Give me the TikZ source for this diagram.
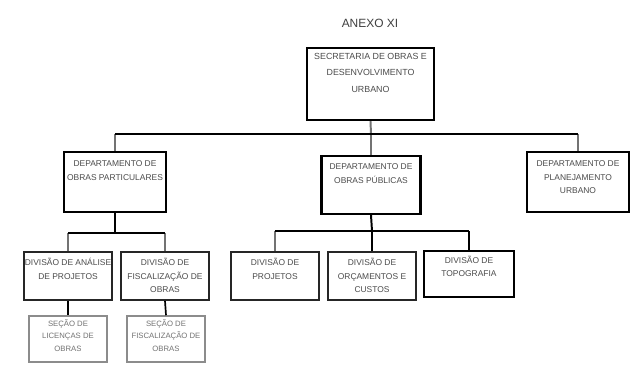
\documentclass[tikz,border=0pt]{standalone}
\usepackage{fontspec}
\setmainfont{Liberation Sans}
\usetikzlibrary{positioning}

\begin{document}
\begin{tikzpicture}[x=0.025cm,y=-0.025cm,
  unit/.style={draw=black,line width=1.5pt,fill=white,inner sep=0pt},
  divbox/.style={draw=black!85,line width=1.2pt,fill=white,inner sep=0pt},
  secbox/.style={draw=black!45,line width=1.1pt,fill=white,inner sep=0pt},
  txt/.style={align=center,inner sep=0pt,text=black!70,font=\fontsize{6}{9.6}\selectfont},
  bar/.style={draw=black,line width=1.4pt},
  stem/.style={draw=black!55,line width=1.4pt}]

\useasboundingbox[fill=white] (0,0) rectangle (638,365);

% title:
\node[font=\fontsize{8.5}{9}\selectfont,text=black!75] (title) at (370,23) {ANEXO XI};

% level 1 and 2:
\node[unit,minimum width=3.175cm,minimum height=1.8cm] (sec) at (370.5,84) {};
\node[unit,minimum width=2.55cm,minimum height=1.5cm] (dop) at (115,182) {};
\node[unit,minimum width=2.475cm,minimum height=1.45cm] (dpub) at (371,185) {};
\node[unit,minimum width=2.55cm,minimum height=1.5cm] (dpla) at (578,182) {};

% level 3:
\node[divbox,minimum width=2.2cm,minimum height=1.2cm] (dap) at (68,276) {};
\node[divbox,minimum width=2.2cm,minimum height=1.2cm] (dfo) at (165,276) {};
\node[divbox,minimum width=2.2cm,minimum height=1.2cm] (dpr) at (275,276) {};
\node[divbox,minimum width=2.2cm,minimum height=1.2cm] (dor) at (372,276) {};
\node[unit,line width=1.3pt,minimum width=2.25cm,minimum height=1.15cm] (dto) at (469,274) {};

% level 4:
\node[secbox,minimum width=1.95cm,minimum height=1.15cm] (slo) at (68,339) {};
\node[secbox,minimum width=1.95cm,minimum height=1.15cm] (sfi) at (166,339) {};

% texts:
\node[txt,font=\fontsize{6.3}{11.8}\selectfont,below=4pt of sec.north] (sec-t) {SECRETARIA DE OBRAS E\\DESENVOLVIMENTO\\URBANO};
\node[txt,below=7pt of dop.north] (dop-t) {DEPARTAMENTO DE\\OBRAS PARTICULARES};
\node[txt,below=6pt of dpub.north] (dpub-t) {DEPARTAMENTO DE\\OBRAS PÚBLICAS};
\node[txt,below=7pt of dpla.north] (dpla-t) {DEPARTAMENTO DE\\PLANEJAMENTO\\URBANO};
\node[txt,below=5pt of dap.north] (dap-t) {DIVISÃO DE ANÁLISE\\DE PROJETOS};
\node[txt,below=5pt of dfo.north] (dfo-t) {DIVISÃO DE\\FISCALIZAÇÃO DE\\OBRAS};
\node[txt,below=5pt of dpr.north] (dpr-t) {DIVISÃO DE\\PROJETOS};
\node[txt,below=5pt of dor.north] (dor-t) {DIVISÃO DE\\ORÇAMENTOS E\\CUSTOS};
\node[txt,below=4pt of dto.north] (dto-t) {DIVISÃO DE\\TOPOGRAFIA};
\node[txt,text=black!55,font=\fontsize{5.5}{8.8}\selectfont,below=3pt of slo.north] (slo-t) {SEÇÃO DE\\LICENÇAS DE\\OBRAS};
\node[txt,text=black!55,font=\fontsize{5.5}{8.8}\selectfont,below=3pt of sfi.north] (sfi-t) {SEÇÃO DE\\FISCALIZAÇÃO DE\\OBRAS};

% connectors:
\coordinate (jn1) at (371,134);
\coordinate (jn2) at (115,233);
\coordinate (jn3) at (372,231);
\draw[stem] (sec.south) -- (jn1);
\draw[stem] (dop.north) -- (dop.north |- jn1);
\draw[stem] (dpub.north) -- (dpub.north |- jn1);
\draw[stem] (dpla.north) -- (dpla.north |- jn1);
\draw[bar] (dop.north |- jn1) -- (dpla.north |- jn1);

\draw[bar] (dop.south) -- (jn2);
\draw[stem] (dap.north) -- (dap.north |- jn2);
\draw[stem] (dfo.north) -- (dfo.north |- jn2);
\draw[bar] (dap.north |- jn2) -- (dfo.north |- jn2);

\draw[bar] (dpub.south) -- (jn3);
\draw[stem] (dpr.north) -- (dpr.north |- jn3);
\draw[bar] (dor.north) -- (dor.north |- jn3);
\draw[bar] (dto.north) -- (dto.north |- jn3);
\draw[bar] (dpr.north |- jn3) -- (dto.north |- jn3);

\draw[bar,line width=1.2pt] (dap.south) -- (slo.north);
\draw[bar,line width=1.2pt] (dfo.south) -- (sfi.north);

\end{tikzpicture}
\end{document}
